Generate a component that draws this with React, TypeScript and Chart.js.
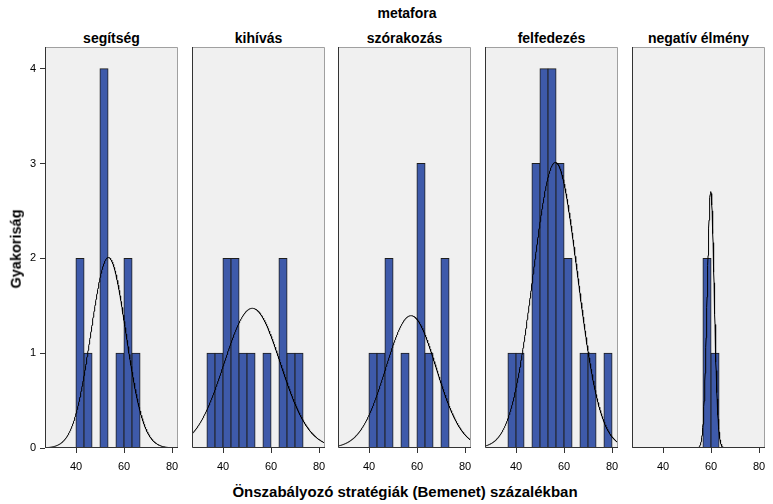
import React, { useEffect, useRef } from 'react';
import { Chart, registerables } from 'chart.js';

Chart.register(...registerables);

// ---- data ----
const superTitle = 'metafora';
const panelTitles = ['segítség', 'kihívás', 'szórakozás', 'felfedezés', 'negatív élmény'];
const xAxisTitle = 'Önszabályozó stratégiák (Bemenet) százalékban';
const yAxisTitle = 'Gyakoriság';

const binCenters = [35, 38.333, 41.667, 45, 48.333, 51.667, 55, 58.333, 61.667, 65, 68.333, 71.667, 75, 78.333];
const binWidth = 3.3333;

const countsSegitseg = [0, 0, 2, 1, 0, 4, 0, 1, 2, 1, 0, 0, 0, 0];
const countsKihivas = [1, 1, 2, 2, 1, 1, 0, 1, 0, 2, 1, 1, 0, 0];
const countsSzorakozas = [0, 0, 1, 1, 2, 0, 1, 0, 3, 1, 0, 2, 0, 0];
const countsFelfedezes = [0, 1, 1, 0, 3, 4, 4, 3, 2, 0, 1, 1, 0, 1];
const countsNegativ = [0, 0, 0, 0, 0, 0, 0, 2, 1, 0, 0, 0, 0, 0];
const panelCounts = [countsSegitseg, countsKihivas, countsSzorakozas, countsFelfedezes, countsNegativ];

// fitted normal curves (mean, standard deviation)
const normalMeans = [53.5, 52.2, 57.5, 56.4, 59.9];
const normalSDs = [7.28, 11.73, 10.48, 9.27, 1.475];

const xTicks = [40, 60, 80];
const yTicks = [0, 1, 2, 3, 4];
const xMin = 27.083;
const xMax = 82.5;
const yMax = 4.23;

// ---- layout ----
const PANEL_LEFTS = [45, 192, 338, 485, 632];
const PANEL_W = 133;
const CANVAS_TOP = 40;
const PAD_TOP = 7;
const PLOT_H = 401;
const XAXIS_H = 30;
const PAD_RIGHT = 4;
const YAXIS_W = 45;

const FONT = "'Liberation Sans', Arial, sans-serif";

const framePlugin = {
  id: 'panelFrame',
  beforeDraw(chart: any) {
    const { ctx, chartArea: a } = chart;
    ctx.save();
    ctx.fillStyle = '#f0f0f0';
    ctx.fillRect(a.left, a.top, a.right - a.left, a.bottom - a.top);
    ctx.restore();
  },
  afterDraw(chart: any) {
    const { ctx, chartArea: a } = chart;
    ctx.save();
    ctx.lineWidth = 1;
    ctx.strokeStyle = '#a0a0a0';
    ctx.beginPath();
    ctx.moveTo(a.left, a.top + 0.5);
    ctx.lineTo(a.right - 0.5, a.top + 0.5);
    ctx.lineTo(a.right - 0.5, a.bottom);
    ctx.stroke();
    ctx.strokeStyle = '#333333';
    ctx.beginPath();
    ctx.moveTo(a.left + 0.5, a.top);
    ctx.lineTo(a.left + 0.5, a.bottom - 0.5);
    ctx.lineTo(a.right, a.bottom - 0.5);
    ctx.stroke();
    ctx.restore();
  },
};

function Panel({ index }: { index: number }) {
  const ref = useRef<HTMLCanvasElement | null>(null);
  const leftW = index === 0 ? YAXIS_W : 0;
  const width = leftW + PANEL_W + PAD_RIGHT;
  const height = PAD_TOP + PLOT_H + XAXIS_H;

  useEffect(() => {
    if (!ref.current) return;
    const counts = panelCounts[index];
    const n = counts.reduce((s, v) => s + v, 0);
    const mean = normalMeans[index];
    const sd = normalSDs[index];
    const barData = binCenters.map((c, i) => ({ x: c, y: counts[i] > 0 ? counts[i] : null }));
    const curve: { x: number; y: number }[] = [];
    for (let x = xMin; x <= xMax + 1e-9; x += 0.1) {
      const z = (x - mean) / sd;
      curve.push({ x, y: (n * binWidth * Math.exp(-0.5 * z * z)) / (sd * Math.sqrt(2 * Math.PI)) });
    }
    const chart = new Chart(ref.current, {
      type: 'line',
      data: {
        datasets: [
          {
            type: 'line',
            data: curve,
            borderColor: '#000000',
            borderWidth: 1,
            pointRadius: 0,
            fill: false,
            tension: 0,
            order: 0,
          } as any,
          {
            type: 'bar',
            data: barData,
            backgroundColor: '#3e5aaa',
            borderColor: '#1e1e1e',
            borderWidth: 1,
            borderSkipped: false,
            inflateAmount: 0.5,
            barPercentage: 1,
            categoryPercentage: 1,
            order: 1,
          } as any,
        ],
      },
      options: {
        responsive: false,
        animation: false,
        events: [],
        layout: { padding: { top: PAD_TOP, right: PAD_RIGHT, left: 0, bottom: 0 } },
        plugins: { legend: { display: false }, tooltip: { enabled: false }, title: { display: false } },
        scales: {
          x: {
            type: 'linear',
            min: xMin,
            max: xMax,
            offset: false,
            afterBuildTicks: (s: any) => {
              s.ticks = xTicks.map((v) => ({ value: v }));
            },
            afterFit: (s: any) => {
              s.height = XAXIS_H;
              s.paddingLeft = 0;
              s.paddingRight = 0;
            },
            ticks: { font: { family: FONT, size: 11 }, color: '#000', padding: 7, maxRotation: 0, autoSkip: false },
            grid: { offset: false, drawOnChartArea: false, drawTicks: true, tickLength: 5, color: '#333333' },
            border: { display: false },
          },
          y: {
            type: 'linear',
            min: 0,
            max: yMax,
            display: index === 0,
            afterBuildTicks: (s: any) => {
              s.ticks = yTicks.map((v) => ({ value: v }));
            },
            afterFit: (s: any) => {
              s.width = index === 0 ? YAXIS_W : 0;
              s.paddingTop = 0;
              s.paddingBottom = 0;
            },
            ticks: { font: { family: FONT, size: 11 }, color: '#000', padding: 4 },
            grid: { drawOnChartArea: false, drawTicks: true, tickLength: 5, color: '#333333' },
            border: { display: false },
          },
        },
      } as any,
      plugins: [framePlugin],
    });
    return () => chart.destroy();
  }, [index]);

  return (
    <canvas
      ref={ref}
      width={width}
      height={height}
      style={{
        position: 'absolute',
        left: PANEL_LEFTS[index] - leftW,
        top: CANVAS_TOP,
        width,
        height,
      }}
    />
  );
}

function Label({ text, cx, cy, rotate, size }: { text: string; cx: number; cy: number; rotate?: boolean; size?: number }) {
  return (
    <div
      style={{
        position: 'absolute',
        left: cx,
        top: cy,
        transform: `translate(-50%, -50%)${rotate ? ' rotate(-90deg)' : ''}`,
        whiteSpace: 'nowrap',
        fontFamily: FONT,
        fontWeight: 'bold',
        fontSize: size ?? 14,
        lineHeight: 1,
        color: '#000',
      }}
    >
      {text}
    </div>
  );
}

export default function App() {
  return (
    <div
      style={{
        position: 'absolute',
        left: 0,
        top: 0,
        width: 773,
        height: 504,
        background: '#ffffff',
        overflow: 'hidden',
      }}
    >
      <Label text={superTitle} cx={407} cy={13} />
      {panelTitles.map((t, i) => (
        <Label key={t} text={t} cx={PANEL_LEFTS[i] + PANEL_W / 2} cy={38} />
      ))}
      {panelTitles.map((t, i) => (
        <Panel key={'p' + i} index={i} />
      ))}
      <Label text={yAxisTitle} cx={16} cy={249} rotate size={14.5} />
      <Label text={xAxisTitle} cx={405} cy={491} size={15} />
    </div>
  );
}
